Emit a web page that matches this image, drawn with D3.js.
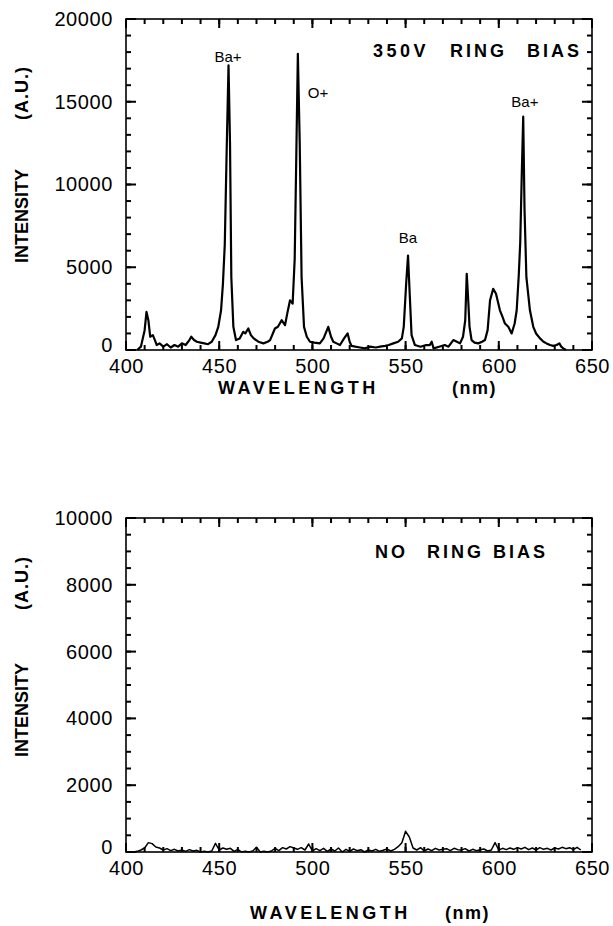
<!DOCTYPE html>
<html>
<head>
<meta charset="utf-8">
<script src="https://cdn.jsdelivr.net/npm/d3@7/dist/d3.min.js"></script>
<style>
  body { margin: 0; background: #fff; }
  svg text { font-family: "Liberation Sans", Arial, sans-serif; fill: #000; }
</style>
</head>
<body>
<svg id="chart" width="613" height="926"></svg>
<script>
// Spectrum with 350V ring bias (wavelength in nm, intensity in A.U.)
const topWavelength = [406, 408, 410, 411, 412, 413, 414.4, 415.5, 416.5, 418,
  420, 422, 424, 426, 428, 430, 432, 434, 435, 436.5,
  438, 440, 442, 444, 446, 448, 449.5, 451, 452, 453,
  454, 455, 455.8, 456.5, 457.6, 459, 461, 462.9, 464, 465.6,
  467, 468.5, 471, 473.7, 476, 477.3, 479.9, 481.5, 483.5, 485.3,
  486.5, 488, 489.4, 490.5, 491.4, 492.2, 493.2, 494.2, 495.5, 497,
  498.7, 501, 504, 506, 508.5, 510, 511.2, 513, 514.8, 517,
  518.9, 520, 521, 523, 525.6, 528, 531, 534, 536.3, 539,
  541, 543.4, 546, 548, 549, 550.3, 551.3, 552.2, 553.2, 555,
  558, 561, 563, 564, 565, 568, 571, 573, 575.6, 577.5,
  579.2, 580.8, 582, 582.8, 583.6, 584.3, 585.4, 587, 589, 591,
  592.6, 594, 595.3, 597, 598.5, 600.6, 602, 603.3, 605.1, 606.9,
  608.5, 609.6, 610.7, 611.5, 612.3, 613.1, 613.8, 614.8, 616.7, 618.5,
  620, 622.1, 624, 625.6, 627.5, 629.2, 631, 632.5, 633.5, 634.6,
  636]
const topIntensity = [0, 200, 1200, 2300, 1800, 800, 900, 600, 300, 400,
  200, 350, 150, 300, 200, 400, 300, 600, 800, 600,
  500, 450, 400, 350, 500, 900, 1400, 2400, 4000, 6400,
  12000, 17200, 12500, 4400, 1400, 600, 700, 1100, 1000, 1300,
  900, 700, 500, 400, 500, 600, 1300, 1400, 1800, 1500,
  2200, 3000, 2800, 5500, 12000, 17900, 12500, 4400, 1400, 800,
  500, 450, 400, 700, 1400, 800, 500, 400, 300, 700,
  1000, 500, 250, 200, 150, 100, 200, 150, 200, 250,
  300, 400, 500, 700, 1400, 4000, 5700, 3400, 900, 300,
  200, 300, 300, 500, 100, 200, 300, 200, 600, 500,
  400, 800, 1800, 4600, 3000, 1400, 600, 450, 400, 500,
  600, 1200, 3000, 3700, 3400, 2400, 2000, 1600, 1400, 1000,
  1600, 2400, 4500, 6500, 10500, 14100, 8500, 4400, 2400, 1400,
  1000, 700, 500, 400, 300, 250, 300, 400, 200, 100,
  0]

// Spectrum without ring bias
const bottomWavelength = [402, 404, 406, 408, 410, 412, 414, 416, 418, 420,
  422, 424, 426, 428, 430, 432, 434, 436, 438, 440,
  442, 444, 446, 448, 450, 452, 454, 456, 458, 460,
  462, 464, 466, 468, 470, 472, 474, 476, 478, 480,
  482, 484, 486, 488, 490, 492, 494, 496, 498, 500,
  502, 504, 506, 508, 510, 512, 514, 516, 518, 520,
  522, 524, 526, 528, 530, 532, 534, 536, 538, 540,
  542, 544, 546, 548, 550, 552, 554, 556, 558, 560,
  562, 564, 566, 568, 570, 572, 574, 576, 578, 580,
  582, 584, 586, 588, 590, 592, 594, 596, 598, 600,
  602, 604, 606, 608, 610, 612, 614, 616, 618, 620,
  622, 624, 626, 628, 630, 632, 634, 636, 638, 640,
  642, 644]
const bottomIntensity = [0, 0, 20, 60, 120, 280, 250, 150, 120, 60,
  100, 40, 80, 30, 60, 20, 70, 30, 50, 0,
  20, 0, 30, 260, 60, 120, 80, 110, 20, 80,
  0, 20, 0, 30, 140, 0, 20, 0, 30, 110,
  40, 130, 90, 160, 120, 80, 130, 60, 240, 30,
  100, 40, 110, 20, 90, 30, 120, 0, 80, 20,
  90, 40, 70, 0, 60, 30, 80, 20, 50, 90,
  30, 80, 160, 280, 620, 450, 120, 60, 130, 30,
  90, 40, 110, 60, 80, 100, 40, 110, 70, 60,
  100, 30, 80, 40, 70, 90, 30, 60, 280, 60,
  110, 70, 120, 80, 130, 90, 140, 70, 120, 60,
  130, 80, 110, 60, 120, 90, 140, 100, 130, 70,
  140, 60]

// Tick values
const xTicks = [400, 450, 500, 550, 600, 650]
const xMinorTicks = d3.range(400, 651, 10)
const topYTicks = [0, 5000, 10000, 15000, 20000]
const topYMinorTicks = d3.range(0, 20001, 1000)
const bottomYTicks = [0, 2000, 4000, 6000, 8000, 10000]
const bottomYMinorTicks = d3.range(0, 10001, 500)

// Peak labels of the top spectrum
const peakNames = ["Ba+", "O+", "Ba", "Ba+"]
const peakWavelength = [454.7, 503, 551.3, 614]
const peakLabelLevel = [17400, 15200, 6450, 14680]

var svg = d3.select("#chart")

var left = 126
var right = 592
var x = d3.scaleLinear().domain([400, 650]).range([left, right])

function drawPanel(p) {
  var y = d3.scaleLinear().domain([0, p.yMax]).range([p.bottom, p.top])
  var g = svg.append("g")

  // tick marks pointing into the plot, on all four sides
  function xTickMarks(values, len) {
    g.append("g").selectAll("line")
      .data(values)
      .enter()
      .append("line")
      .attr("x1", function(d) { return x(d) })
      .attr("x2", function(d) { return x(d) })
      .attr("y1", p.bottom)
      .attr("y2", p.bottom - len)
      .attr("stroke", "#000")
      .attr("stroke-width", 2)
    g.append("g").selectAll("line")
      .data(values)
      .enter()
      .append("line")
      .attr("x1", function(d) { return x(d) })
      .attr("x2", function(d) { return x(d) })
      .attr("y1", p.top)
      .attr("y2", p.top + len)
      .attr("stroke", "#000")
      .attr("stroke-width", 2)
  }
  function yTickMarks(values, len) {
    g.append("g").selectAll("line")
      .data(values)
      .enter()
      .append("line")
      .attr("x1", left)
      .attr("x2", left + len)
      .attr("y1", function(d) { return y(d) })
      .attr("y2", function(d) { return y(d) })
      .attr("stroke", "#000")
      .attr("stroke-width", 2)
    g.append("g").selectAll("line")
      .data(values)
      .enter()
      .append("line")
      .attr("x1", right)
      .attr("x2", right - len)
      .attr("y1", function(d) { return y(d) })
      .attr("y2", function(d) { return y(d) })
      .attr("stroke", "#000")
      .attr("stroke-width", 2)
  }
  xTickMarks(xMinorTicks, 5)
  xTickMarks(xTicks, 9)
  yTickMarks(p.yMinor, 5)
  yTickMarks(p.yTicks, 10)

  // tick labels through the library axes
  var xAxis = g.append("g")
    .attr("transform", "translate(0," + p.bottom + ")")
    .call(d3.axisBottom(x).tickValues(xTicks).tickSize(0).tickPadding(9).tickFormat(d3.format("d")))
  var yAxis = g.append("g")
    .attr("transform", "translate(" + left + ",0)")
    .call(d3.axisLeft(y).tickValues(p.yTicks).tickSize(0).tickPadding(13).tickFormat(d3.format("d")))
  ;[xAxis, yAxis].forEach(function(a) {
    a.select(".domain").remove()
    a.selectAll("text")
      .style("font-size", "20px")
      .style("letter-spacing", "0.6px")
      .attr("fill", "#000")
  })
  // the zero of the y axis sits a little above its tick
  yAxis.selectAll("text")
    .filter(function(d) { return d === 0 })
    .attr("dy", "0.05em")

  // plot frame
  g.append("rect")
    .attr("x", left)
    .attr("y", p.top)
    .attr("width", right - left)
    .attr("height", p.bottom - p.top)
    .attr("fill", "none")
    .attr("stroke", "#000")
    .attr("stroke-width", 1.6)

  var line = d3.line()
    .x(function(d) { return x(d[0]) })
    .y(function(d) { return y(d[1]) })

  g.append("path")
    .datum(d3.zip(p.wl, p.val))
    .attr("d", line)
    .attr("fill", "none")
    .attr("stroke", "#000")
    .attr("stroke-width", p.lineWidth)
    .attr("stroke-linejoin", "round")

  // axis titles
  var yTitle = g.append("g").attr("transform", "translate(28,0)")
  yTitle.append("text")
    .attr("transform", "translate(0," + p.intensityY + ") rotate(-90)")
    .style("font-size", "18px")
    .style("font-weight", "bold")
    .text("INTENSITY")
  yTitle.append("text")
    .attr("transform", "translate(0," + p.auY + ") rotate(-90)")
    .style("font-size", "18px")
    .style("font-weight", "bold")
    .style("letter-spacing", "1px")
    .text("(A.U.)")

  g.append("text")
    .attr("x", p.waveX)
    .attr("y", p.titleY)
    .style("font-size", "18px")
    .style("font-weight", "bold")
    .style("letter-spacing", "3.5px")
    .text("WAVELENGTH")
  g.append("text")
    .attr("x", p.nmX)
    .attr("y", p.titleY)
    .style("font-size", "18px")
    .style("font-weight", "bold")
    .style("letter-spacing", "1.5px")
    .text("(nm)")

  // condition label in the upper right
  var cond = g.append("text")
    .attr("y", p.top + p.condDy)
    .style("font-size", "18px")
    .style("font-weight", "bold")
    .style("letter-spacing", "3px")
  p.words.forEach(function(w, i) {
    cond.append("tspan")
      .attr("x", p.wordX[i])
      .style("letter-spacing", /\d/.test(w) ? "3.5px" : null)
      .text(w)
  })

  return { g: g, y: y }
}

var topPanel = drawPanel({
  top: 19, bottom: 350, yMax: 20000,
  yTicks: topYTicks, yMinor: topYMinorTicks,
  wl: topWavelength, val: topIntensity, lineWidth: 2.2,
  intensityY: 263, auY: 120,
  waveX: 218, nmX: 452, titleY: 394,
  words: ["350V", "RING", "BIAS"], wordX: [373, 450, 527], condDy: 38
})

var bottomPanel = drawPanel({
  top: 518, bottom: 852, yMax: 10000,
  yTicks: bottomYTicks, yMinor: bottomYMinorTicks,
  wl: bottomWavelength, val: bottomIntensity, lineWidth: 1.5,
  intensityY: 757, auY: 610,
  waveX: 250, nmX: 445, titleY: 919,
  words: ["NO", "RING", "BIAS"], wordX: [375, 427, 493], condDy: 40
})

// peak names over the top spectrum
topPanel.g.selectAll(".peak")
  .data(peakNames)
  .enter()
  .append("text")
  .attr("class", "peak")
  .attr("x", function(d, i) { return x(peakWavelength[i]) })
  .attr("y", function(d, i) { return topPanel.y(peakLabelLevel[i]) })
  .attr("text-anchor", "middle")
  .style("font-size", "15px")
  .text(function(d) { return d })
</script>
</body>
</html>
